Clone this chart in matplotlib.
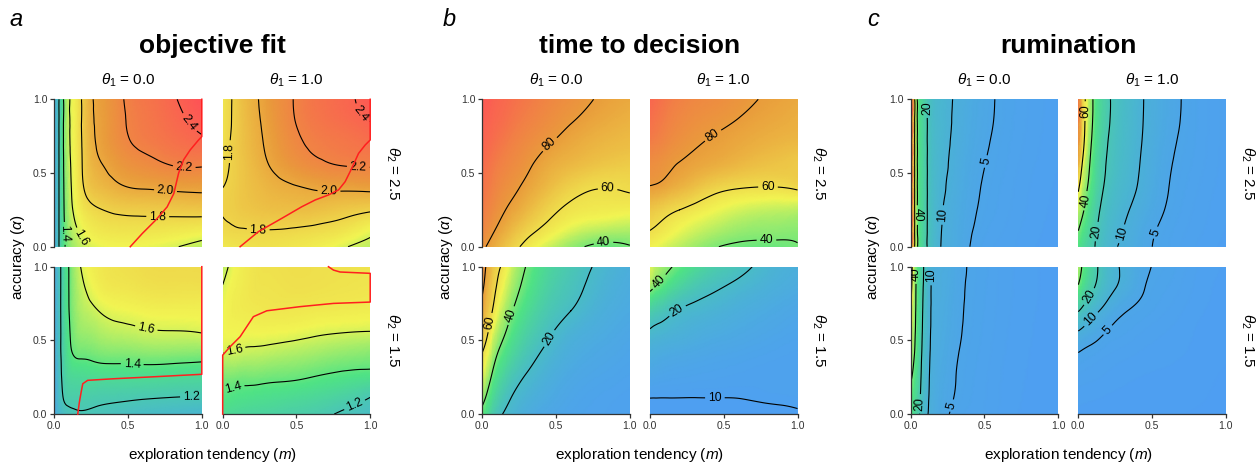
import numpy as np
import matplotlib
matplotlib.use("Agg")
import matplotlib.pyplot as plt
import matplotlib.tri as mtri
from matplotlib.colors import LinearSegmentedColormap, Normalize

plt.rcParams['font.family'] = ['Liberation Sans', 'DejaVu Sans']
plt.rcParams['mathtext.fontset'] = 'custom'
plt.rcParams['mathtext.rm'] = 'Liberation Sans'
plt.rcParams['mathtext.it'] = 'Liberation Sans:italic'
plt.rcParams['mathtext.bf'] = 'Liberation Sans:bold'

# ---------------- data ----------------
m_grid = [0.0, 0.03, 0.07, 0.12, 0.2, 0.3, 0.45, 0.6, 0.8, 1.0]       # exploration tendency
alpha_grid = [0.0, 0.1, 0.25, 0.4, 0.55, 0.7, 0.85, 1.0]              # accuracy (rows)

group_titles = ["objective fit", "time to decision", "rumination"]
group_letters = ["a", "b", "c"]
theta1_values = ["0.0", "1.0"]
theta2_values = ["2.5", "1.5"]
tick_values = [0.0, 0.5, 1.0]
tick_labels = ["0.0", "0.5", "1.0"]

# objective fit
fit_t1_00_t2_25 = [
    [1.05, 1.19, 1.39, 1.50, 1.58, 1.63, 1.65, 1.64, 1.61, 1.55],
    [1.05, 1.19, 1.40, 1.54, 1.64, 1.70, 1.72, 1.72, 1.70, 1.67],
    [1.05, 1.19, 1.42, 1.59, 1.72, 1.79, 1.83, 1.84, 1.85, 1.86],
    [1.05, 1.19, 1.43, 1.61, 1.80, 1.91, 1.98, 2.01, 2.03, 2.04],
    [1.05, 1.19, 1.44, 1.62, 1.83, 1.98, 2.08, 2.14, 2.20, 2.21],
    [1.05, 1.19, 1.45, 1.63, 1.84, 2.02, 2.15, 2.23, 2.30, 2.36],
    [1.05, 1.19, 1.45, 1.63, 1.85, 2.03, 2.17, 2.26, 2.35, 2.44],
    [1.05, 1.19, 1.45, 1.63, 1.85, 2.04, 2.18, 2.28, 2.38, 2.50]]
fit_t1_10_t2_25 = [
    [1.70, 1.71, 1.72, 1.73, 1.74, 1.74, 1.72, 1.69, 1.62, 1.56],
    [1.76, 1.77, 1.78, 1.785, 1.79, 1.79, 1.78, 1.76, 1.72, 1.63],
    [1.81, 1.82, 1.83, 1.85, 1.87, 1.89, 1.90, 1.90, 1.86, 1.82],
    [1.80, 1.81, 1.83, 1.86, 1.90, 1.94, 1.98, 2.01, 2.03, 2.04],
    [1.77, 1.79, 1.82, 1.86, 1.92, 1.99, 2.08, 2.15, 2.20, 2.21],
    [1.74, 1.78, 1.82, 1.87, 1.94, 2.02, 2.14, 2.22, 2.27, 2.32],
    [1.73, 1.77, 1.81, 1.87, 1.95, 2.04, 2.17, 2.26, 2.33, 2.40],
    [1.72, 1.76, 1.81, 1.88, 1.96, 2.06, 2.18, 2.28, 2.36, 2.45]]
fit_t1_00_t2_15 = [
    [1.03, 1.10, 1.15, 1.18, 1.19, 1.18, 1.16, 1.14, 1.12, 1.10],
    [1.04, 1.13, 1.21, 1.23, 1.23, 1.22, 1.21, 1.20, 1.19, 1.185],
    [1.04, 1.14, 1.25, 1.30, 1.31, 1.32, 1.32, 1.32, 1.31, 1.30],
    [1.05, 1.15, 1.28, 1.39, 1.42, 1.44, 1.45, 1.46, 1.46, 1.45],
    [1.05, 1.15, 1.29, 1.43, 1.50, 1.53, 1.56, 1.58, 1.59, 1.60],
    [1.05, 1.15, 1.30, 1.45, 1.55, 1.60, 1.64, 1.66, 1.67, 1.67],
    [1.05, 1.15, 1.30, 1.46, 1.59, 1.67, 1.71, 1.73, 1.74, 1.74],
    [1.05, 1.15, 1.30, 1.47, 1.63, 1.70, 1.74, 1.76, 1.77, 1.77]]
fit_t1_10_t2_15 = [
    [1.31, 1.31, 1.30, 1.29, 1.28, 1.27, 1.25, 1.23, 1.19, 1.15],
    [1.37, 1.37, 1.36, 1.35, 1.34, 1.33, 1.31, 1.29, 1.25, 1.19],
    [1.45, 1.45, 1.45, 1.44, 1.44, 1.43, 1.42, 1.40, 1.37, 1.35],
    [1.59, 1.58, 1.58, 1.57, 1.56, 1.55, 1.53, 1.51, 1.48, 1.46],
    [1.64, 1.65, 1.65, 1.65, 1.65, 1.65, 1.64, 1.62, 1.60, 1.59],
    [1.64, 1.66, 1.68, 1.69, 1.70, 1.71, 1.71, 1.70, 1.69, 1.68],
    [1.61, 1.64, 1.67, 1.69, 1.72, 1.73, 1.74, 1.74, 1.73, 1.72],
    [1.55, 1.59, 1.64, 1.68, 1.72, 1.74, 1.75, 1.75, 1.74, 1.73]]

# time to decision
time_t1_00_t2_25 = [
    [83, 79.5, 76, 71, 64, 57, 49, 43, 38, 39.5],
    [87.5, 84.5, 80.8, 76.5, 70, 63, 56, 50, 46, 45],
    [92, 89.5, 86.3, 82.5, 77.5, 71.5, 63, 58, 56, 55],
    [95, 93, 90, 86.5, 82.5, 77.5, 70, 63.5, 60.2, 61],
    [98, 96, 93, 90, 86.5, 82, 75, 71, 67, 65],
    [101, 99.5, 97, 94, 90, 86, 80.5, 76, 72, 70],
    [103, 102, 100, 98, 94, 90, 85, 80.5, 76, 73],
    [105, 104, 102, 100, 97, 93, 88, 84, 79, 76]]
time_t1_10_t2_25 = [
    [54, 53, 51.5, 49.5, 47, 44, 40.3, 38.5, 38, 39.5],
    [59.5, 58.5, 57, 55, 52, 49, 45.5, 43, 42, 41.5],
    [67, 66, 64.5, 62.5, 60, 57, 53, 50, 48, 47],
    [79, 78.5, 77.5, 75.5, 72.5, 68.5, 63, 60.5, 59.5, 61.5],
    [85, 84.3, 83.2, 81.5, 79.3, 77, 74, 71, 68, 66],
    [91, 90, 88.5, 86.3, 83.5, 81, 78.5, 76, 73, 71],
    [96, 94.5, 92.5, 90, 87, 84.5, 82, 79.5, 76.5, 74],
    [100, 98.5, 96, 93, 90, 87.5, 85.5, 82.5, 79, 76]]
time_t1_00_t2_15 = [
    [37, 33, 26, 21, 17.5, 14.5, 12.5, 11.5, 10.8, 10.3],
    [42.5, 38, 31, 25, 19.5, 16.2, 13.5, 12, 11, 10.5],
    [51, 46, 38, 31, 24, 19.3, 15.3, 13, 11.8, 11],
    [59, 54, 45, 37.5, 30, 23.5, 17.8, 14.5, 12.8, 11.7],
    [67, 62, 52, 44, 35.5, 28, 21, 16.5, 14, 12.5],
    [75, 69, 59.5, 50, 40.5, 32.5, 24.5, 20, 15.5, 13.5],
    [82, 74, 64.5, 55.5, 45, 36.5, 27.5, 22.5, 17, 14.2],
    [88, 78, 68, 60.5, 49, 39.5, 30, 24.5, 18.5, 15]]
time_t1_10_t2_15 = [
    [9.6, 9.6, 9.7, 9.7, 9.7, 9.7, 9.6, 9.5, 9.5, 9.8],
    [9.93, 9.93, 9.93, 9.94, 9.94, 9.94, 9.95, 9.97, 10.15, 10.3],
    [12, 11.8, 11.6, 11.4, 11.2, 11, 10.8, 10.6, 10.5, 10.5],
    [14.5, 14.2, 13.8, 13.4, 13, 12.6, 12, 11.6, 11, 10.6],
    [18.8, 18, 17.5, 16.8, 16, 15, 14, 13.2, 12.2, 11.3],
    [27, 25.5, 24, 22, 19.5, 18, 16.5, 15, 13.5, 12.3],
    [42, 39, 36, 32.5, 28, 24, 20.5, 18, 15.5, 13.8],
    [52, 48, 45, 42, 37, 32, 26, 22.5, 17.5, 15]]

# rumination
rum_t1_00_t2_25 = [
    [160, 55, 30, 18.5, 10.2, 7.2, 4.2, 3.3, 2.6, 2.2],
    [160, 55, 30, 18.5, 10.4, 7.4, 4.53, 3.5, 2.7, 2.25],
    [160, 55, 30, 18.5, 10.8, 7.7, 5.0, 3.8, 2.85, 2.3],
    [160, 55, 30, 18.5, 11.3, 8.2, 5.3, 3.95, 2.95, 2.35],
    [160, 55, 30, 18.5, 11.7, 8.6, 5.6, 4.21, 3.1, 2.45],
    [160, 55, 30, 18.5, 12.0, 9.0, 6.0, 4.42, 3.25, 2.5],
    [160, 55, 30, 18.5, 12.2, 9.3, 6.3, 4.63, 3.35, 2.55],
    [160, 55, 30, 18.5, 12.3, 9.5, 6.5, 4.7, 3.4, 2.6]]
rum_t1_10_t2_25 = [
    [34, 29, 23.5, 19.3, 12.5, 9.2, 5.8, 4.0, 2.9, 2.3],
    [39.5, 34, 27.5, 20.5, 13.7, 10, 6.2, 4.2, 3.1, 2.4],
    [50, 42, 33, 23.5, 15.5, 11.3, 7.4, 4.8, 3.3, 2.5],
    [63, 49, 38, 27, 17.5, 12.8, 8.5, 5.2, 3.5, 2.6],
    [82, 57, 42, 29, 19, 13.8, 9.0, 5.5, 3.7, 2.7],
    [95, 66, 46, 31.5, 20, 14.5, 9.4, 5.9, 3.85, 2.75],
    [105, 70, 49, 33.5, 21.2, 15, 9.7, 6.3, 3.95, 2.78],
    [110, 72, 50, 34, 21.5, 15.3, 9.8, 6.4, 4.0, 2.8]]
rum_t1_00_t2_15 = [
    [34, 28, 17.5, 9.8, 6.4, 4.4, 3.6, 2.9, 2.3, 2.0],
    [36, 30, 18.5, 10.2, 6.6, 4.85, 3.7, 2.95, 2.35, 2.05],
    [41.5, 34, 20, 10.6, 6.9, 5.1, 3.8, 3.0, 2.4, 2.1],
    [48, 38, 21.5, 11.0, 7.2, 5.35, 3.95, 3.1, 2.45, 2.1],
    [54, 40.5, 23, 11.4, 7.5, 5.7, 4.1, 3.2, 2.5, 2.15],
    [60, 42, 24, 11.7, 7.7, 5.9, 4.2, 3.3, 2.55, 2.2],
    [66, 43, 25, 12, 7.9, 6.1, 4.3, 3.35, 2.6, 2.2],
    [70, 44, 26, 12.2, 8.0, 6.3, 4.4, 3.4, 2.6, 2.2]]
rum_t1_10_t2_15 = [
    [2.3, 2.28, 2.25, 2.2, 2.15, 2.1, 2.05, 2.0, 1.9, 1.8],
    [2.6, 2.55, 2.5, 2.45, 2.35, 2.25, 2.15, 2.1, 2.0, 1.85],
    [3.3, 3.2, 3.1, 3.0, 2.8, 2.6, 2.4, 2.3, 2.1, 1.9],
    [4.7, 4.4, 4.1, 3.8, 3.4, 3.1, 2.8, 2.6, 2.3, 2.0],
    [9.3, 8.3, 7.2, 6.2, 4.7, 4.0, 3.3, 2.9, 2.4, 2.05],
    [20.5, 17.5, 14, 11, 7.8, 5.4, 4.2, 3.4, 2.6, 2.2],
    [37, 30, 24, 18.5, 12, 8.6, 5.0, 3.9, 2.8, 2.3],
    [48, 38, 29, 21.5, 13.5, 9.4, 5.6, 4.3, 3.0, 2.4]]

fit_levels = [1.2, 1.4, 1.6, 1.8, 2.0, 2.2, 2.4]
time_levels = [10, 20, 40, 60, 80]
rum_levels = [5, 10, 20, 40, 60]

# red boundary lines in the objective-fit panels
bound_x_t1_00_t2_25 = [0.515, 0.597, 0.687, 0.765, 0.81, 0.843, 0.877, 0.921, 0.978, 1.0, 1.0]
bound_y_t1_00_t2_25 = [0.0, 0.09, 0.18, 0.27, 0.36, 0.5, 0.59, 0.656, 0.724, 0.747, 1.0]
bound_x_t1_10_t2_25 = [0.118, 0.242, 0.4, 0.536, 0.627, 0.717, 0.785, 0.83, 0.875, 0.921, 0.966, 1.0, 1.0]
bound_y_t1_10_t2_25 = [0.0, 0.102, 0.192, 0.271, 0.317, 0.351, 0.385, 0.441, 0.532, 0.633, 0.69, 0.724, 1.0]
bound_x_t1_00_t2_15 = [0.159, 0.17, 0.182, 0.193, 0.226, 0.406, 0.63, 1.0, 1.0]
bound_y_t1_00_t2_15 = [0.0, 0.081, 0.149, 0.206, 0.229, 0.24, 0.251, 0.27, 1.0]
bound_x_t1_10_t2_15 = [0.0, 0.0, 0.05, 0.118, 0.163, 0.208, 0.299, 0.525, 0.751, 1.0, 1.0, 0.796, 0.751, 0.717]
bound_y_t1_10_t2_15 = [0.0, 0.4, 0.457, 0.525, 0.593, 0.661, 0.701, 0.729, 0.751, 0.76, 0.955, 0.964, 0.977, 1.0]

# label anchor spots for contour labels
lab_fit = {
    (0, 0): [(0.9, 0.83), (0.88, 0.53), (0.75, 0.33), (0.7, 0.15), (0.18, 0.057), (0.07, 0.09)],
    (0, 1): [(0.91, 0.88), (0.92, 0.55), (0.72, 0.35), (0.06, 0.645), (0.24, 0.1)],
    (1, 0): [(0.63, 0.61), (0.53, 0.37), (0.93, 0.13)],
    (1, 1): [(0.08, 0.43), (0.08, 0.16), (0.9, 0.05)]}
lab_time = {
    (0, 0): [(0.47, 0.68), (0.85, 0.41), (0.82, 0.045)],
    (0, 1): [(0.43, 0.75), (0.8, 0.43), (0.79, 0.07)],
    (1, 0): [(0.056, 0.62), (0.19, 0.67), (0.46, 0.51)],
    (1, 1): [(0.07, 0.89), (0.18, 0.71), (0.44, 0.12)]}
lab_rum = {
    (0, 0): [(0.108, 0.94), (0.06, 0.215), (0.22, 0.215), (0.515, 0.577)],
    (0, 1): [(0.05, 0.92), (0.06, 0.31), (0.14, 0.1), (0.32, 0.08), (0.51, 0.1)],
    (1, 0): [(0.04, 0.95), (0.15, 0.94), (0.05, 0.07), (0.27, 0.06)],
    (1, 1): [(0.07, 0.8), (0.08, 0.65), (0.19, 0.58)]}

groups = [
    dict(fields={(0, 0): fit_t1_00_t2_25, (0, 1): fit_t1_10_t2_25,
                 (1, 0): fit_t1_00_t2_15, (1, 1): fit_t1_10_t2_15},
         levels=fit_levels, fmt='%.1f', norm=Normalize(0.95, 2.5), labels=lab_fit),
    dict(fields={(0, 0): time_t1_00_t2_25, (0, 1): time_t1_10_t2_25,
                 (1, 0): time_t1_00_t2_15, (1, 1): time_t1_10_t2_15},
         levels=time_levels, fmt='%d', norm=Normalize(8, 108), labels=lab_time),
    dict(fields={(0, 0): rum_t1_00_t2_25, (0, 1): rum_t1_10_t2_25,
                 (1, 0): rum_t1_00_t2_15, (1, 1): rum_t1_10_t2_15},
         levels=rum_levels, fmt='%d', norm=Normalize(0, 125), labels=lab_rum),
]
boundaries = {(0, 0): (bound_x_t1_00_t2_25, bound_y_t1_00_t2_25),
              (0, 1): (bound_x_t1_10_t2_25, bound_y_t1_10_t2_25),
              (1, 0): (bound_x_t1_00_t2_15, bound_y_t1_00_t2_15),
              (1, 1): (bound_x_t1_10_t2_15, bound_y_t1_10_t2_15)}

cmap = LinearSegmentedColormap.from_list("bgyr", [
    (0.0, '#4f9bf7'), (0.12, '#49bdc6'), (0.27, '#4fe385'),
    (0.45, '#f1f552'), (0.72, '#e99c3b'), (1.0, '#ff5257')])

# ---------------- triangulation ----------------
mx, my = np.meshgrid(m_grid, alpha_grid)
nx, ny = len(m_grid), len(alpha_grid)
tris = []
for j in range(ny - 1):
    for i in range(nx - 1):
        k = j * nx + i
        tris.append([k, k + 1, k + nx + 1])
        tris.append([k, k + nx + 1, k + nx])
tri = mtri.Triangulation(mx.ravel(), my.ravel(), np.array(tris))
refiner = mtri.UniformTriRefiner(tri)


def smooth(values):
    z = np.log(np.asarray(values, float)).ravel()
    interp = mtri.CubicTriInterpolator(tri, z, kind='min_E')
    rtri, rz = refiner.refine_field(z, triinterpolator=interp, subdiv=4)
    return rtri, np.exp(rz)


# ---------------- figure ----------------
W, H = 1260, 468
fig = plt.figure(figsize=(W / 100, H / 100), dpi=100)

lefts_px = [[54.3, 222.7], [482.3, 650.0], [910.7, 1078.3]]
tops_px = [99.3, 266.7]
pw, ph = 147.5, 147.4
spine_col = '#333333'

for g, grp in enumerate(groups):
    for r in range(2):
        for c in range(2):
            ax = fig.add_axes([lefts_px[g][c] / W, 1 - (tops_px[r] + ph) / H, pw / W, ph / H])
            rtri, field = smooth(grp['fields'][(r, c)])
            ax.tripcolor(rtri, field, shading='gouraud', cmap=cmap, norm=grp['norm'],
                         rasterized=True, zorder=0)
            cs = ax.tricontour(rtri, field, levels=grp['levels'], colors='black',
                               linewidths=0.8, zorder=2)
            ax.clabel(cs, inline=True, fontsize=8.8, fmt=grp['fmt'],
                      manual=grp['labels'][(r, c)], inline_spacing=3)
            if g == 0:
                bx, by = boundaries[(r, c)]
                ax.plot(bx, by, color='#ff1f1f', lw=1.1, clip_on=False, zorder=4)
            ax.set_xlim(0, 1)
            ax.set_ylim(0, 1)
            for s in ['top', 'right']:
                ax.spines[s].set_visible(False)
            ax.spines['left'].set_visible(c == 0)
            ax.spines['bottom'].set_visible(r == 1)
            for s in ['left', 'bottom']:
                ax.spines[s].set_color(spine_col)
                ax.spines[s].set_linewidth(0.9)
            ax.tick_params(colors=spine_col, labelcolor='#333333', labelsize=7.5,
                           length=3, width=0.9, pad=2)
            if c == 0:
                ax.set_yticks(tick_values)
                ax.set_yticklabels(tick_labels)
            else:
                ax.set_yticks([])
            if r == 1:
                ax.set_xticks(tick_values)
                ax.set_xticklabels(tick_labels)
            else:
                ax.set_xticks([])
            if r == 0:
                cx = (lefts_px[g][c] + pw / 2) / W
                fig.text(cx, 1 - 80 / H, r'$\theta_1$ = ' + theta1_values[c],
                         ha='center', va='center', fontsize=11)
        rx = [393, 819, 1248][g] / W
        fig.text(rx, 1 - (tops_px[r] + ph / 2) / H, r'$\theta_2$ = ' + theta2_values[r],
                 ha='center', va='center', rotation=-90, fontsize=11)
    gcx = (lefts_px[g][0] + lefts_px[g][1] + pw) / 2 / W
    fig.text(gcx, 1 - 46 / H, group_titles[g], ha='center', va='center',
             fontsize=19, fontweight='bold')
    fig.text([16, 449, 873][g] / W, 1 - 20 / H, group_letters[g], ha='center', va='center',
             fontsize=17, style='italic')
    fig.text([18, 446, 873][g] / W, 1 - 257 / H, r'accuracy ($\alpha$)', ha='center',
             va='center', rotation=90, fontsize=11)
    fig.text(gcx, 1 - 455 / H, r'exploration tendency ($m$)', ha='center', va='center',
             fontsize=11)

fig.savefig('out.png', dpi=100)
